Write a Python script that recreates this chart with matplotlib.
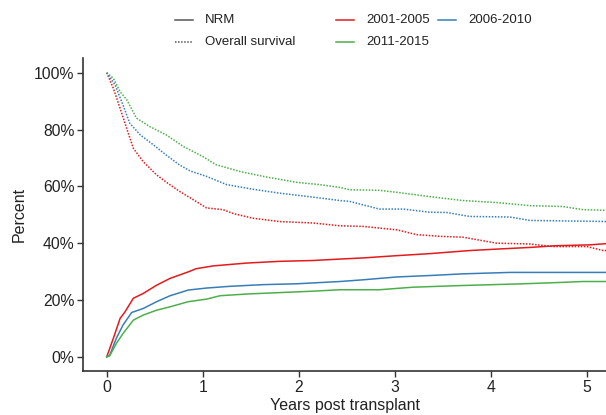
import matplotlib
matplotlib.use("Agg")
import matplotlib.pyplot as plt
from matplotlib.lines import Line2D
from matplotlib.ticker import FuncFormatter

plt.rcParams['font.family'] = ['Liberation Sans', 'DejaVu Sans']

# ---- data (years, percent) ----
os_2001_t = [0, 0.069, 0.139, 0.208, 0.277, 0.38, 0.52, 0.64, 0.76, 0.93, 1.04, 1.21, 1.32, 1.52, 1.80,
             2.15, 2.43, 2.67, 3.02, 3.23, 3.47, 3.71, 4.06, 4.41, 4.65, 5.0, 5.17, 5.25]
os_2001_v = [100, 94.5, 87.5, 80.4, 73.4, 68.7, 64.0, 61.0, 58.2, 54.7, 52.4, 51.8, 50.4, 48.8, 47.6,
             47.1, 46.1, 45.9, 44.7, 43.0, 42.4, 42.1, 40.0, 39.7, 38.8, 38.8, 37.4, 37.4]

os_2006_t = [0, 0.086, 0.17, 0.24, 0.35, 0.49, 0.62, 0.76, 0.87, 1.04, 1.25, 1.52, 1.80, 2.15, 2.43,
             2.53, 2.84, 3.09, 3.36, 3.54, 3.78, 4.20, 4.41, 5.25]
os_2006_v = [100, 95.8, 88.6, 82.2, 78.1, 74.5, 71.0, 67.5, 65.4, 63.5, 60.6, 59.0, 57.6, 56.2, 55.0,
             54.7, 52.0, 52.0, 50.9, 50.8, 49.4, 49.2, 48.0, 47.6]

os_2011_t = [0, 0.07, 0.14, 0.21, 0.31, 0.45, 0.62, 0.80, 1.0, 1.14, 1.39, 1.66, 1.98, 2.22, 2.43,
             2.53, 2.84, 3.02, 3.36, 3.71, 4.06, 4.41, 4.75, 4.96, 5.25]
os_2011_v = [100, 98.0, 93.3, 90.4, 84.0, 81.0, 78.1, 74.0, 70.5, 67.6, 65.2, 63.3, 61.4, 60.6, 59.6,
             58.8, 58.6, 57.9, 56.4, 55.0, 54.3, 53.2, 52.9, 51.8, 51.5]

nrm_2001_t = [0, 0.069, 0.139, 0.19, 0.277, 0.38, 0.52, 0.66, 0.85, 0.93, 1.11, 1.46, 1.80, 2.15,
              2.43, 2.67, 3.02, 3.36, 3.78, 4.06, 4.41, 4.68, 5.03, 5.19, 5.25]
nrm_2001_v = [0, 6.5, 13.5, 15.8, 20.6, 22.3, 25.2, 27.6, 29.9, 31.0, 32.0, 33.0, 33.6, 33.9,
              34.4, 34.8, 35.6, 36.3, 37.4, 37.9, 38.5, 39.1, 39.4, 39.8, 39.8]

nrm_2006_t = [0, 0.03, 0.10, 0.17, 0.26, 0.38, 0.52, 0.66, 0.85, 1.04, 1.28, 1.63, 1.98, 2.43,
              2.67, 3.02, 3.36, 3.71, 4.20, 5.25]
nrm_2006_v = [0, 0.5, 6.5, 11.2, 15.6, 17.0, 19.4, 21.5, 23.5, 24.2, 24.8, 25.4, 25.7, 26.5,
              27.1, 28.1, 28.6, 29.2, 29.7, 29.7]

nrm_2011_t = [0, 0.03, 0.10, 0.17, 0.277, 0.38, 0.52, 0.66, 0.85, 1.04, 1.18, 1.46, 1.80, 2.15,
              2.43, 2.84, 3.19, 3.71, 4.34, 4.75, 4.96, 5.25]
nrm_2011_v = [0, 0.3, 4.7, 8.2, 12.9, 14.7, 16.4, 17.6, 19.4, 20.3, 21.5, 22.1, 22.6, 23.1,
              23.6, 23.6, 24.5, 25.1, 25.7, 26.2, 26.5, 26.5]

x_ticks = [0, 1, 2, 3, 4, 5]
y_ticks = [0, 20, 40, 60, 80, 100]

RED, BLUE, GREEN = '#E41A1C', '#377EB8', '#4DAF4A'
DOT = (0, (1, 1))

W, H = 606, 415
fig = plt.figure(figsize=(W / 100, H / 100), dpi=100)
ax = fig.add_axes([83.3 / W, (H - 371) / H, (W - 83.3) / W, (371 - 58.5) / H])

lw = 1.1
ax.plot(os_2001_t, os_2001_v, color=RED, lw=lw, ls=DOT)
ax.plot(os_2006_t, os_2006_v, color=BLUE, lw=lw, ls=DOT)
ax.plot(os_2011_t, os_2011_v, color=GREEN, lw=lw, ls=DOT)
ax.plot(nrm_2001_t, nrm_2001_v, color=RED, lw=lw)
ax.plot(nrm_2006_t, nrm_2006_v, color=BLUE, lw=lw)
ax.plot(nrm_2011_t, nrm_2011_v, color=GREEN, lw=lw)

ax.set_xlim(-0.244, 5.2)
ax.set_ylim(-5, 105)
ax.set_xticks(x_ticks)
ax.set_yticks(y_ticks)
ax.yaxis.set_major_formatter(FuncFormatter(lambda v, p: f"{int(v)}%"))
for s in ['top', 'right']:
    ax.spines[s].set_visible(False)
for s in ['left', 'bottom']:
    ax.spines[s].set_color('#333333')
    ax.spines[s].set_linewidth(1.2)
ax.tick_params(axis='both', colors='#333333', length=4.5, width=1.0, labelsize=11.3,
               labelcolor='#222222', pad=2)
ax.set_xlabel('Years post transplant', fontsize=11.5, color='#222222', labelpad=2)
ax.set_ylabel('Percent', fontsize=11.5, color='#222222', labelpad=5)
ax.patch.set_alpha(0)

# legend (figure pixel coordinates)
def fx(x):
    return x / W

def fy(y):
    return (H - y) / H

def leg_item(x0, y, color, ls, label):
    fig.add_artist(Line2D([fx(x0), fx(x0 + 18)], [fy(y), fy(y)], color=color, ls=ls, lw=1.1,
                          transform=fig.transFigure))
    fig.text(fx(x0 + 30), fy(y), label, fontsize=9.5, color='#222222', va='center', ha='left')

leg_item(175, 20, '#555555', '-', 'NRM')
leg_item(175, 42, '#555555', DOT, 'Overall survival')
leg_item(336, 20, RED, '-', '2001-2005')
leg_item(438, 20, BLUE, '-', '2006-2010')
leg_item(336, 42, GREEN, '-', '2011-2015')

fig.savefig('out.png', dpi=100)
